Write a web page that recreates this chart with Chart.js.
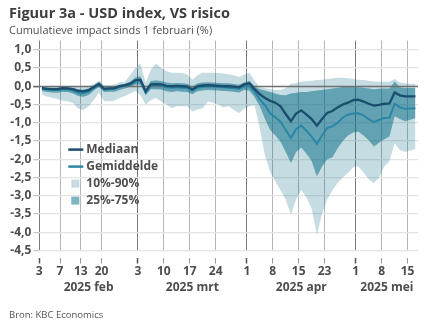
<!DOCTYPE html>
<html>
<head>
<meta charset="utf-8">
<script src="https://cdn.jsdelivr.net/npm/chart.js@4.4.1/dist/chart.umd.min.js"></script>
<style>
  html, body { margin: 0; padding: 0; background: #fff; }
</style>
</head>
<body>
<canvas id="usdChart" width="432" height="334"></canvas>
<script>
// trading days per month (US holidays left out)
const febDays = [3, 4, 5, 6, 7, 10, 11, 12, 13, 14, 18, 19, 20, 21, 24, 25, 26, 27, 28];
const mrtDays = [3, 4, 5, 6, 7, 10, 11, 12, 13, 14, 17, 18, 19, 20, 21, 24, 25, 26, 27, 28, 31];
const aprDays = [1, 2, 3, 4, 7, 8, 9, 10, 11, 14, 15, 16, 17, 21, 22, 23, 24, 25, 28, 29, 30];
const meiDays = [1, 2, 5, 6, 7, 8, 9, 12, 13, 14, 15, 16];
const monthLabels = ['2025 feb', '2025 mrt', '2025 apr', '2025 mei'];

// days that get a tick label
const labelledDates = ['02-03', '02-07', '02-13', '02-20', '03-03', '03-10', '03-17', '03-24',
  '04-01', '04-08', '04-15', '04-23', '05-01', '05-08', '05-15'];

const yTickValues = [1.0, 0.5, 0.0, -0.5, -1.0, -1.5, -2.0, -2.5, -3.0, -3.5, -4.0, -4.5];

// cumulative impact since 1 Feb (%)
const mediaan = [
  -0.05, -0.07, -0.08, -0.08, -0.05, -0.06, -0.08, -0.13, -0.14, -0.11, -0.02, 0.07, -0.07, -0.06, -0.05, 0.00, 0.03, 0.07, 0.16,
  0.18, -0.14, 0.05, 0.06, 0.05, 0.01, 0.00, 0.01, 0.00, -0.01, -0.09, 0.00, 0.02, 0.03, 0.02, 0.01, 0.00, 0.00, -0.01, -0.03, 0.05,
  0.08, -0.08, -0.22, -0.32, -0.40, -0.45, -0.55, -0.76, -0.96, -0.75, -0.66, -0.78, -0.90, -1.08, -0.90, -0.73, -0.68, -0.58, -0.50, -0.45, -0.38,
  -0.37, -0.42, -0.48, -0.53, -0.51, -0.48, -0.47, -0.17, -0.25, -0.28, -0.28, -0.28
];
const gemiddelde = [
  -0.07, -0.09, -0.10, -0.10, -0.08, -0.09, -0.12, -0.18, -0.19, -0.15, -0.05, 0.04, -0.09, -0.08, -0.07, -0.02, 0.01, 0.04, 0.12,
  0.14, -0.17, 0.02, 0.03, 0.01, -0.03, -0.04, -0.03, -0.04, -0.05, -0.12, -0.04, -0.02, 0.00, -0.01, -0.02, -0.03, -0.04, -0.05, -0.07, 0.00,
  0.00, -0.15, -0.36, -0.52, -0.75, -0.85, -0.97, -1.20, -1.42, -1.18, -1.08, -1.22, -1.38, -1.58, -1.35, -1.14, -1.10, -1.00, -0.86, -0.78, -0.75,
  -0.74, -0.80, -0.90, -0.98, -0.92, -0.87, -0.86, -0.48, -0.58, -0.62, -0.61, -0.60
];
const p10 = [
  -0.23, -0.28, -0.32, -0.35, -0.40, -0.42, -0.46, -0.62, -0.66, -0.55, -0.38, -0.18, -0.41, -0.41, -0.40, -0.32, -0.27, -0.20, -0.13,
  -0.25, -0.50, -0.38, -0.32, -0.42, -0.50, -0.60, -0.55, -0.55, -0.55, -0.69, -0.64, -0.60, -0.42, -0.45, -0.50, -0.58, -0.55, -0.65, -0.73, -0.62,
  -0.55, -0.52, -1.15, -1.90, -2.35, -2.60, -2.85, -3.10, -3.52, -3.10, -2.84, -3.05, -3.35, -4.07, -3.50, -3.10, -2.85, -2.65, -2.50, -2.38, -2.22,
  -2.20, -2.36, -2.55, -2.65, -2.50, -2.20, -2.05, -1.56, -1.75, -1.80, -1.76, -1.72
];
const p25 = [
  -0.13, -0.16, -0.17, -0.18, -0.15, -0.16, -0.20, -0.27, -0.29, -0.24, -0.12, -0.02, -0.16, -0.15, -0.15, -0.10, -0.06, -0.02, 0.04,
  0.05, -0.25, -0.08, -0.08, -0.09, -0.14, -0.16, -0.14, -0.15, -0.16, -0.22, -0.14, -0.12, -0.10, -0.11, -0.12, -0.13, -0.14, -0.15, -0.17, -0.10,
  -0.12, -0.30, -0.55, -0.90, -1.20, -1.35, -1.52, -1.80, -2.10, -1.80, -1.68, -1.85, -2.05, -2.47, -2.20, -2.00, -1.95, -1.70, -1.50, -1.35, -1.27,
  -1.25, -1.35, -1.48, -1.65, -1.55, -1.45, -1.38, -0.82, -0.90, -0.96, -0.92, -0.87
];
const p75 = [
  -0.02, -0.03, -0.04, -0.04, -0.02, -0.03, -0.05, -0.08, -0.09, -0.06, 0.02, 0.11, -0.03, -0.02, -0.01, 0.04, 0.06, 0.12, 0.24,
  0.27, -0.08, 0.14, 0.16, 0.14, 0.10, 0.08, 0.09, 0.08, 0.07, -0.01, 0.08, 0.10, 0.11, 0.10, 0.09, 0.08, 0.08, 0.06, 0.04, 0.10,
  0.15, 0.00, -0.08, -0.12, -0.16, -0.20, -0.24, -0.25, -0.20, -0.18, -0.16, -0.16, -0.14, -0.12, -0.10, -0.08, -0.06, -0.04, -0.02, -0.02, -0.02,
  -0.03, -0.04, -0.06, -0.08, -0.07, -0.06, -0.06, 0.13, -0.03, -0.05, -0.05, -0.05
];
const p90 = [
  0.00, 0.00, 0.01, 0.00, 0.01, 0.00, -0.01, -0.02, -0.03, 0.00, 0.06, 0.16, 0.02, 0.03, 0.05, 0.11, 0.12, 0.30, 0.50,
  0.62, 0.10, 0.45, 0.62, 0.50, 0.42, 0.37, 0.37, 0.36, 0.32, 0.18, 0.30, 0.37, 0.37, 0.37, 0.36, 0.35, 0.33, 0.30, 0.25, 0.32,
  0.37, 0.15, -0.02, -0.05, -0.08, -0.10, -0.10, -0.05, 0.07, 0.09, 0.12, 0.14, 0.15, 0.17, 0.18, 0.20, 0.22, 0.23, 0.23, 0.22, 0.20,
  0.18, 0.17, 0.15, 0.13, 0.12, 0.12, 0.12, 0.20, 0.10, 0.08, 0.07, 0.07
];

const fontFamily = '"Open Sans", "Noto Sans", sans-serif';
const textColor = '#4d4d4d';
const medianColor = '#1b4d6d';
const meanColor = '#2b86a3';
const band90Color = 'rgba(0, 103, 131, 0.23)';
const band75Color = 'rgba(0, 103, 131, 0.5)';

// build the date list and x positions (points sit in the middle of each day)
const pad = (n) => String(n).padStart(2, '0');
const months = [[2, febDays], [3, mrtDays], [4, aprDays], [5, meiDays]];
const dates = [];
const monthStarts = [];
months.forEach(function (m) {
  monthStarts.push(dates.length);
  m[1].forEach(function (d) { dates.push(pad(m[0]) + '-' + pad(d)); });
});
monthStarts.push(dates.length);

const tickIndexes = labelledDates.map(function (d) { return dates.indexOf(d); });
const monthMids = monthLabels.map(function (l, i) { return (monthStarts[i] + monthStarts[i + 1]) / 2; });

function toPoints(values) {
  return values.map(function (v, i) { return { x: i + 0.5, y: v }; });
}

function isMonthStart(value) {
  return monthStarts.indexOf(value) !== -1;
}

// zero line sits above the bands but under the two lines
const zeroLinePlugin = {
  id: 'zeroLine',
  beforeDatasetDraw(chart, args) {
    if (args.index !== 1) return;
    const ctx = chart.ctx;
    const y = Math.round(chart.scales.y.getPixelForValue(0)) + 0.5;
    ctx.save();
    ctx.strokeStyle = '#6f6f6f';
    ctx.lineWidth = 1.5;
    ctx.beginPath();
    ctx.moveTo(chart.chartArea.left - 6, y);
    ctx.lineTo(chart.chartArea.right, y);
    ctx.stroke();
    ctx.restore();
  }
};

// legend drawn inside the plot, plus the source note
const notesPlugin = {
  id: 'notes',
  afterDraw(chart) {
    const ctx = chart.ctx;
    const area = chart.chartArea;
    const x0 = area.left + 29;
    let y = area.top + 109;
    ctx.save();
    ctx.font = 'bold 12px ' + fontFamily;
    ctx.textBaseline = 'middle';
    ctx.fillStyle = textColor;
    const items = [
      { ds: 0, kind: 'line' },
      { ds: 1, kind: 'line' },
      { ds: 4, kind: 'box' },
      { ds: 2, kind: 'box' }
    ];
    items.forEach(function (it) {
      const ds = chart.data.datasets[it.ds];
      if (it.kind === 'line') {
        ctx.strokeStyle = ds.borderColor;
        ctx.lineWidth = 2.5;
        ctx.beginPath();
        ctx.moveTo(x0, y);
        ctx.lineTo(x0 + 15, y);
        ctx.stroke();
      } else {
        ctx.fillStyle = ds.backgroundColor;
        ctx.fillRect(x0 + 3, y - 4, 8, 8);
      }
      ctx.fillStyle = textColor;
      ctx.fillText(ds.label, x0 + 18, y);
      y += 17;
    });

    ctx.font = '9.5px ' + fontFamily;
    ctx.fillStyle = '#555';
    ctx.fillText('Bron: KBC Economics', 9, 315);
    ctx.restore();
  }
};

const ctx = document.getElementById('usdChart').getContext('2d');

new Chart(ctx, {
  type: 'line',
  data: {
    datasets: [
      {
        label: 'Mediaan',
        data: toPoints(mediaan),
        borderColor: medianColor,
        borderWidth: 2.3,
        fill: false
      },
      {
        label: 'Gemiddelde',
        data: toPoints(gemiddelde),
        borderColor: meanColor,
        borderWidth: 2,
        fill: false
      },
      {
        label: '25%-75%',
        data: toPoints(p75),
        borderWidth: 0,
        backgroundColor: band75Color,
        fill: '+1'
      },
      {
        label: 'p25',
        data: toPoints(p25),
        borderWidth: 0,
        fill: false
      },
      {
        label: '10%-90%',
        data: toPoints(p90),
        borderWidth: 0,
        backgroundColor: band90Color,
        fill: '+1'
      },
      {
        label: 'p10',
        data: toPoints(p10),
        borderWidth: 0,
        fill: false
      }
    ]
  },
  options: {
    responsive: false,
    animation: false,
    layout: {
      padding: { left: 9, right: 14, top: 0, bottom: 35.5 }
    },
    elements: {
      point: { radius: 0, hoverRadius: 0 },
      line: { tension: 0, borderColor: 'rgba(0,0,0,0)' }
    },
    plugins: {
      legend: { display: false },
      tooltip: { enabled: false },
      title: {
        display: true,
        text: 'Figuur 3a - USD index, VS risico',
        align: 'start',
        color: '#3d3d3d',
        font: { family: fontFamily, size: 14.5, weight: 'bold', lineHeight: 1.2 },
        padding: { top: 5, bottom: 2 }
      },
      subtitle: {
        display: true,
        text: 'Cumulatieve impact sinds 1 februari (%)',
        align: 'start',
        color: '#4d4d4d',
        font: { family: fontFamily, size: 11, lineHeight: 1.2 },
        padding: { top: 0, bottom: 3 }
      }
    },
    scales: {
      x: {
        type: 'linear',
        position: 'bottom',
        min: 0,
        max: dates.length,
        afterBuildTicks: function (scale) {
          scale.ticks = tickIndexes.map(function (v) { return { value: v }; });
        },
        afterFit: function (scale) { scale.height = 28; },
        ticks: {
          autoSkip: false,
          maxRotation: 0,
          padding: 1,
          color: textColor,
          font: { family: fontFamily, size: 12, weight: 'bold' },
          callback: function (value) {
            return String(parseInt(dates[value].slice(3), 10));
          }
        },
        grid: {
          color: function (c) { return isMonthStart(c.tick.value) ? '#7a7a7a' : '#b5b5b5'; },
          lineWidth: 1,
          borderDash: [1, 3],
          tickLength: 13,
          tickBorderDash: [0, 7, 6, 100],
          tickColor: function (c) { return isMonthStart(c.tick.value) ? '#555' : '#9a9a9a'; },
          tickWidth: function (c) { return isMonthStart(c.tick.value) ? 1.5 : 1; }
        },
        border: { display: false }
      },
      xMonth: {
        type: 'linear',
        position: 'bottom',
        weight: 1,
        min: 0,
        max: dates.length,
        afterBuildTicks: function (scale) {
          scale.ticks = monthMids.map(function (v) { return { value: v }; });
        },
        afterFit: function (scale) { scale.height = 20; },
        ticks: {
          autoSkip: false,
          maxRotation: 0,
          padding: 2,
          color: textColor,
          font: { family: fontFamily, size: 12, weight: 'bold' },
          callback: function (value, index) { return monthLabels[index]; }
        },
        grid: { display: false, drawTicks: false },
        border: { display: false }
      },
      y: {
        min: -4.5,
        max: 1.25,
        afterBuildTicks: function (scale) {
          scale.ticks = yTickValues.map(function (v) { return { value: v }; });
        },
        afterFit: function (scale) { scale.width = 30.3; },
        ticks: {
          padding: 2,
          color: textColor,
          font: { family: fontFamily, size: 12, weight: 'bold' },
          callback: function (value) { return value.toFixed(1).replace('.', ','); }
        },
        grid: {
          color: function (c) { return c.tick.value === 0 ? 'rgba(0,0,0,0)' : '#e4e4e4'; },
          lineWidth: 1.3,
          tickLength: 6,
          tickColor: function (c) { return c.tick.value === 0 ? '#6f6f6f' : '#c8c8c8'; }
        },
        border: { display: false }
      }
    }
  },
  plugins: [zeroLinePlugin, notesPlugin]
});
</script>
</body>
</html>
